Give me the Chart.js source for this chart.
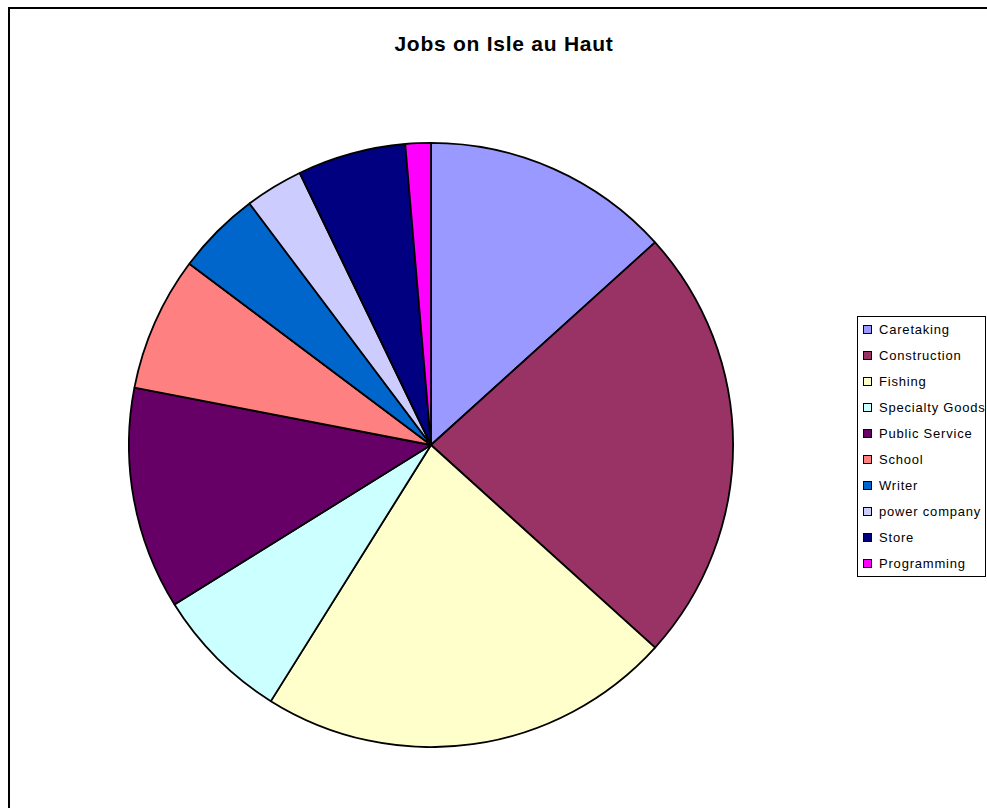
<!DOCTYPE html>
<html>
<head>
<meta charset="utf-8">
<script src="https://cdn.jsdelivr.net/npm/chart.js@4/dist/chart.umd.min.js"></script>
<style>
  html, body { margin: 0; padding: 0; background: #fff; overflow: hidden; }
  body { width: 987px; height: 808px; position: relative; font-family: "Liberation Sans", Arial, sans-serif; }
  #frame { position: absolute; left: 8px; top: 7px; width: 1100px; height: 900px; border: 2px solid #000; box-sizing: border-box; }
  #title { position: absolute; left: 304px; top: 32px; width: 400px; text-align: center; font-weight: bold; font-size: 21px; line-height: 24px; letter-spacing: 0.75px; color: #000; }
  #pieWrap { position: absolute; left: 128px; top: 142px; width: 606px; height: 606px; }
  #legend { position: absolute; left: 857px; top: 316px; width: 129px; height: 261px; border: 1px solid #000; box-sizing: border-box; background: #fff; }
  .item { height: 26px; line-height: 26px; font-size: 13px; letter-spacing: 0.8px; white-space: nowrap; position: relative; padding-left: 21px; color: #000; }
  .swatch { position: absolute; left: 5px; top: 8px; width: 7px; height: 7px; border: 1px solid #000; }
</style>
</head>
<body>
<div id="frame"></div>
<div id="title">Jobs on Isle au Haut</div>
<div id="pieWrap"><canvas id="pieChart"></canvas></div>
<div id="legend"></div>

<script>
// DATA

const jobLabels = ["Caretaking", "Construction", "Fishing", "Specialty Goods", "Public Service",
                   "School", "Writer", "power company", "Store", "Programming"];
const jobShares = [13.3, 23.4, 22.2, 7.25, 11.9, 7.2, 4.5, 3.1, 5.8, 1.36];
const jobColors = ["#9999FF", "#993366", "#FFFFCC", "#CCFFFF", "#660066",
                   "#FF8080", "#0066CC", "#CCCCFF", "#000080", "#FF00FF"];

// LEGEND

const legend = document.getElementById("legend");
jobLabels.forEach((label, i) => {
  const row = document.createElement("div");
  row.className = "item";
  const sw = document.createElement("span");
  sw.className = "swatch";
  sw.style.background = jobColors[i];
  row.appendChild(sw);
  row.appendChild(document.createTextNode(label));
  legend.appendChild(row);
});

// CHART

new Chart(document.getElementById("pieChart"), {
  type: "pie",
  data: {
    labels: jobLabels,
    datasets: [{
      data: jobShares,
      backgroundColor: jobColors,
      borderColor: "#000",
      borderWidth: 1.8
    }]
  },
  options: {
    responsive: true,
    maintainAspectRatio: false,
    animation: false,
    layout: { padding: 0 },
    plugins: {
      legend: { display: false },
      title: { display: false },
      tooltip: { enabled: false }
    }
  }
});
</script>
</body>
</html>
